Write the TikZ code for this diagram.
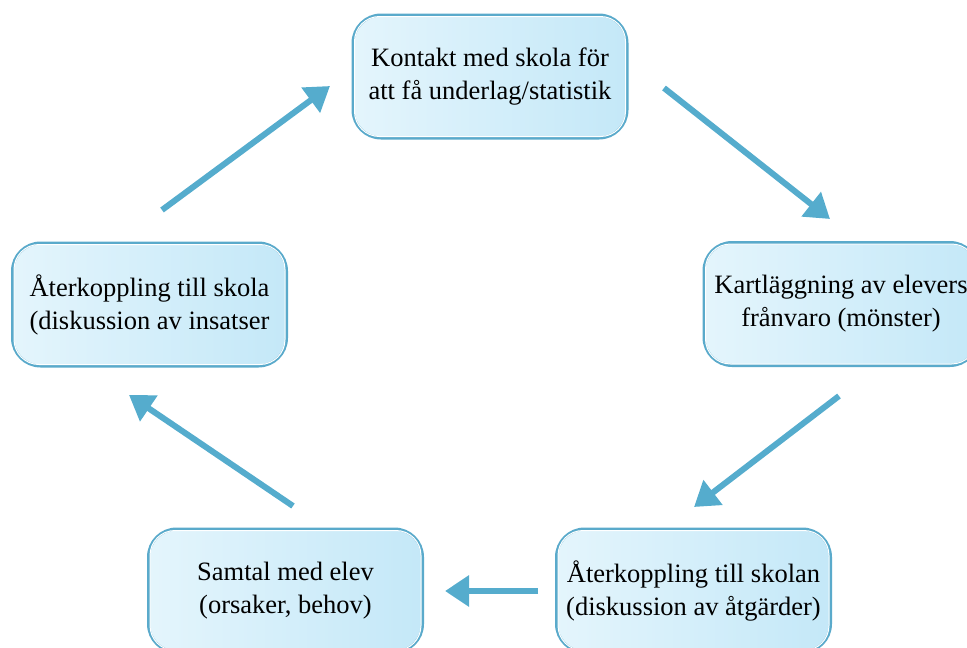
\documentclass[tikz,border=0pt]{standalone}
\usepackage{fontspec}
\setmainfont{Liberation Serif}
\usetikzlibrary{arrows.meta,calc}
\definecolor{boxborder}{HTML}{5AAACB}
\definecolor{boxleft}{HTML}{E4F5FC}
\definecolor{boxright}{HTML}{C4E8F8}
\definecolor{arrowblue}{HTML}{55ACCD}
\tikzset{
  stepbox/.style={rectangle, rounded corners=28pt, draw=boxborder, line width=3pt,
    left color=boxleft, right color=boxright, minimum width=274pt, minimum height=123pt,
    align=center, font=\fontsize{26.5}{33}\selectfont, inner sep=0pt},
  innerline/.style={draw=white, line width=1pt, rounded corners=25pt},
  flow/.style={draw=arrowblue, line width=6pt, -{Triangle[length=24pt,width=30pt]}}
}
\begin{document}
\begin{tikzpicture}[x=1pt,y=-1pt]
\useasboundingbox (0,0) rectangle (967,648);
\node[stepbox] (top) at (490,76.5) {Kontakt med skola för\\att få underlag/statistik};
\node[stepbox] (right) at (841,304) {Kartläggning av elevers\\frånvaro (mönster)};
\node[stepbox] (bright) at (693.5,590.5) {Återkoppling till skolan\\(diskussion av åtgärder)};
\node[stepbox] (bleft) at (285.5,590.5) {Samtal med elev\\(orsaker, behov)};
\node[stepbox] (left) at (149.5,304.5) {Återkoppling till skola\\(diskussion av insatser};
\foreach \n in {top,right,bright,bleft,left}{
  \draw[innerline] ($(\n.north west)+(3,3)$) rectangle ($(\n.south east)+(-3,-3)$);
}
\coordinate (a1s) at (664,88);  \coordinate (a1e) at (830,219);
\coordinate (a2s) at (839,396); \coordinate (a2e) at (694,507);
\coordinate (a3s) at (538,591); \coordinate (a3e) at (445,591);
\coordinate (a4s) at (293,506); \coordinate (a4e) at (129,395);
\coordinate (a5s) at (162,210); \coordinate (a5e) at (330,86);
\draw[flow] (a1s) -- (a1e);
\draw[flow] (a2s) -- (a2e);
\draw[flow] (a3s) -- (a3e);
\draw[flow] (a4s) -- (a4e);
\draw[flow] (a5s) -- (a5e);
\end{tikzpicture}
\end{document}
